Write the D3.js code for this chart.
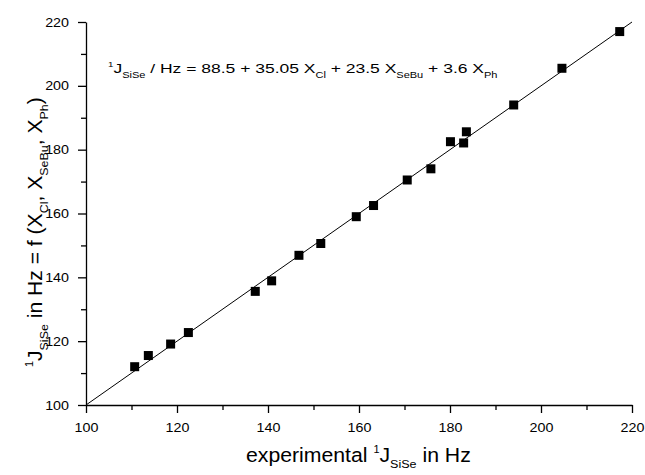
<!DOCTYPE html>
<html>
<head>
<meta charset="utf-8">
<script src="https://cdn.jsdelivr.net/npm/d3@7"></script>
<style>
  body { margin: 0; background: #fff; }
  svg text { font-family: "Liberation Sans", Arial, sans-serif; fill: #000; }
</style>
</head>
<body>
<div id="container"></div>
<script>
// experimental 1J(SiSe) values
const experimental = [110.7, 113.7, 118.6, 122.5, 137.2, 140.8, 146.8, 151.6, 159.4, 163.2,
                      170.6, 175.8, 180.1, 183.0, 183.6, 194.0, 204.6, 217.3];
// calculated from the fit
const calculated = [112.0, 115.5, 119.1, 122.7, 135.6, 138.9, 146.9, 150.6, 159.0, 162.5,
                    170.5, 174.0, 182.5, 182.1, 185.6, 194.0, 205.5, 217.0];
const majorTicks = [100, 120, 140, 160, 180, 200, 220];
const minorTicks = [110, 130, 150, 170, 190, 210];
const fitLine = [100, 220];

const WIDTH = 645;
const HEIGHT = 475;
const margin = { left: 86, right: 13, top: 22, bottom: 70 };
const STRETCH = 1.1; // the original lettering is a bit wider than Liberation Sans

const svg = d3.select("#container")
    .append("svg")
    .attr("width", WIDTH)
    .attr("height", HEIGHT);

const xScale = d3.scaleLinear()
    .domain([100, 220])
    .range([margin.left, WIDTH - margin.right]);

const yScale = d3.scaleLinear()
    .domain([100, 220])
    .range([HEIGHT - margin.bottom, margin.top]);

// minor ticks first, then the major axis on top
svg.append("g")
    .attr("transform", "translate(0," + yScale(100) + ")")
    .call(d3.axisBottom(xScale).tickValues(minorTicks).tickSize(5).tickFormat(""))
    .call(g => g.select(".domain").remove());

svg.append("g")
    .attr("transform", "translate(" + xScale(100) + ",0)")
    .call(d3.axisLeft(yScale).tickValues(minorTicks).tickSize(5).tickFormat(""))
    .call(g => g.select(".domain").remove());

const bottomAxis = svg.append("g")
    .attr("transform", "translate(0," + yScale(100) + ")")
    .call(d3.axisBottom(xScale).tickValues(majorTicks).tickSize(8).tickSizeOuter(0).tickPadding(10));

const leftAxis = svg.append("g")
    .attr("transform", "translate(" + xScale(100) + ",0)")
    .call(d3.axisLeft(yScale).tickValues(majorTicks).tickSize(8).tickSizeOuter(0).tickPadding(9));

bottomAxis.selectAll("text")
    .style("font-size", "13px")
    .attr("transform", "scale(" + STRETCH + ",1)");

leftAxis.selectAll("text")
    .style("font-size", "13px")
    .each(function () {
        const t = d3.select(this);
        const x = +t.attr("x");
        t.attr("x", 0).attr("transform", "translate(" + x + ",0) scale(" + STRETCH + ",1)");
    });

svg.selectAll(".domain, .tick line").attr("stroke", "#000").attr("stroke-width", 1.3);

// fit line y = x
svg.append("line")
    .attr("x1", xScale(fitLine[0]))
    .attr("y1", yScale(fitLine[0]))
    .attr("x2", xScale(fitLine[1]))
    .attr("y2", yScale(fitLine[1]))
    .attr("stroke", "#000")
    .attr("stroke-width", 1);

// square markers
const SIZE = 9;
svg.selectAll("rect.pt")
    .data(experimental)
    .enter()
    .append("rect")
    .attr("class", "pt")
    .attr("x", d => xScale(d) - SIZE / 2)
    .attr("y", (d, i) => yScale(calculated[i]) - SIZE / 2)
    .attr("width", SIZE)
    .attr("height", SIZE)
    .attr("fill", "#000");

const addPart = (t, txt, kind, size, shift) => {
    const s = t.append("tspan").text(txt);
    if (kind) s.style("font-size", size + "px").attr("baseline-shift", shift);
    return s;
};

// stretch a text horizontally (along its own direction) to a target length
const fitText = (t, base, target) => {
    const w = t.node().getComputedTextLength();
    t.attr("transform", base + " scale(" + (target / w) + ",1)");
};

// equation
const eq = svg.append("text").style("font-size", "13.5px");
addPart(eq, "1", "sup", 7.5, 6);
addPart(eq, "J");
addPart(eq, "SiSe", "sub", 8.5, -5);
addPart(eq, " / Hz = 88.5 + 35.05 X");
addPart(eq, "Cl", "sub", 8.5, -5);
addPart(eq, " + 23.5 X");
addPart(eq, "SeBu", "sub", 8.5, -5);
addPart(eq, " + 3.6 X");
addPart(eq, "Ph", "sub", 8.5, -5);
fitText(eq, "translate(108,73)", 390);

// x title
const xt = svg.append("text").style("font-size", "19.5px");
addPart(xt, "experimental ");
addPart(xt, "1", "sup", 10, 9);
addPart(xt, "J");
addPart(xt, "SiSe", "sub", 11.5, -6);
addPart(xt, " in Hz");
fitText(xt, "translate(246,462)", 225);

// y title
const yt = svg.append("text").style("font-size", "19.5px");
addPart(yt, "1", "sup", 10, 9);
addPart(yt, "J");
addPart(yt, "SiSe", "sub", 11.5, -6);
addPart(yt, " in Hz = f (X");
addPart(yt, "Cl", "sub", 11.5, -6);
addPart(yt, ", X");
addPart(yt, "SeBu", "sub", 11.5, -6);
addPart(yt, ", X");
addPart(yt, "Ph", "sub", 11.5, -6);
addPart(yt, ")");
fitText(yt, "translate(42,367) rotate(-90)", 270);
</script>
</body>
</html>
